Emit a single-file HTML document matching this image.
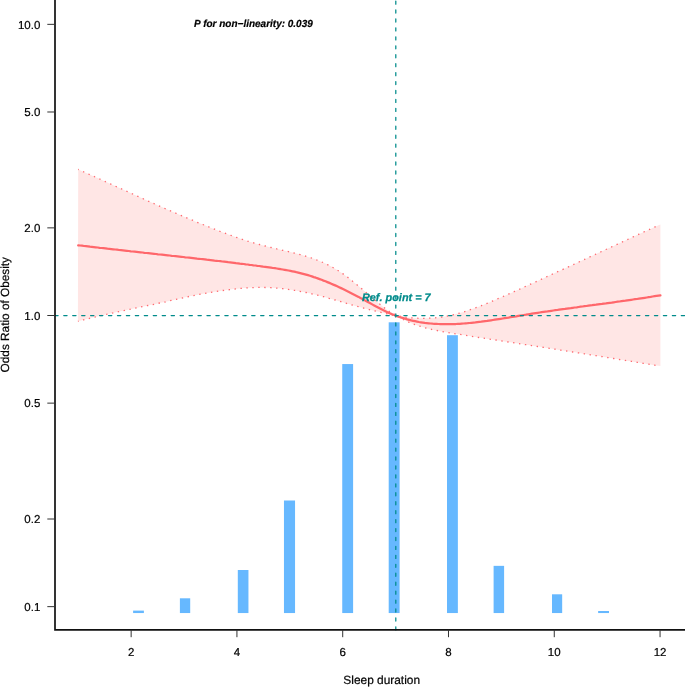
<!DOCTYPE html><html><head><meta charset="utf-8"><title>chart</title><style>html,body{margin:0;padding:0;background:#fff}svg{display:block;will-change:transform}text{font-family:"Liberation Sans",sans-serif;fill:#000;stroke:#000;stroke-width:0.2px;text-rendering:geometricPrecision}</style></head><body>
<svg width="685" height="687" viewBox="0 0 685 687">
<rect width="685" height="687" fill="#fff"/>
<rect x="133.10" y="610.60" width="10.80" height="2.45" fill="#66b8ff"/>
<rect x="179.90" y="598.30" width="10.30" height="14.75" fill="#66b8ff"/>
<rect x="237.80" y="570.00" width="10.65" height="43.05" fill="#66b8ff"/>
<rect x="283.96" y="500.50" width="11.09" height="112.55" fill="#66b8ff"/>
<rect x="342.24" y="364.05" width="10.86" height="249.00" fill="#66b8ff"/>
<rect x="388.70" y="322.30" width="10.90" height="290.75" fill="#66b8ff"/>
<rect x="447.00" y="335.20" width="10.87" height="277.85" fill="#66b8ff"/>
<rect x="493.60" y="565.85" width="10.50" height="47.20" fill="#66b8ff"/>
<rect x="552.00" y="594.30" width="10.17" height="18.75" fill="#66b8ff"/>
<rect x="598.14" y="611.00" width="10.86" height="2.05" fill="#66b8ff"/>
<path d="M78.2,169.4 L80.1,170.3 L82.1,171.2 L84.0,172.0 L86.0,172.9 L87.9,173.8 L89.9,174.6 L91.8,175.5 L93.8,176.4 L95.7,177.3 L97.7,178.1 L99.6,179.0 L101.6,179.9 L103.5,180.8 L105.5,181.7 L107.4,182.5 L109.4,183.4 L111.3,184.3 L113.2,185.2 L115.2,186.1 L117.1,187.0 L119.1,187.8 L121.0,188.7 L123.0,189.6 L124.9,190.5 L126.9,191.4 L128.8,192.3 L130.8,193.1 L132.7,194.0 L134.7,194.9 L136.6,195.8 L138.6,196.7 L140.5,197.6 L142.5,198.4 L144.4,199.3 L146.4,200.2 L148.3,201.1 L150.2,201.9 L152.2,202.8 L154.1,203.7 L156.1,204.5 L158.0,205.4 L160.0,206.3 L161.9,207.1 L163.9,208.0 L165.8,208.9 L167.8,209.7 L169.7,210.6 L171.7,211.4 L173.6,212.3 L175.6,213.1 L177.5,213.9 L179.5,214.8 L181.4,215.6 L183.3,216.4 L185.3,217.3 L187.2,218.1 L189.2,218.9 L191.1,219.7 L193.1,220.5 L195.0,221.4 L197.0,222.2 L198.9,223.0 L200.9,223.8 L202.8,224.5 L204.8,225.3 L206.7,226.1 L208.7,226.9 L210.6,227.7 L212.6,228.4 L214.5,229.2 L216.4,230.0 L218.4,230.7 L220.3,231.5 L222.3,232.2 L224.2,232.9 L226.2,233.7 L228.1,234.4 L230.1,235.1 L232.0,235.8 L234.0,236.5 L235.9,237.2 L237.9,237.8 L239.8,238.5 L241.8,239.2 L243.7,239.8 L245.7,240.4 L247.6,241.1 L249.5,241.7 L251.5,242.3 L253.4,242.8 L255.4,243.4 L257.3,244.0 L259.3,244.5 L261.2,245.0 L263.2,245.5 L265.1,246.0 L267.1,246.5 L269.0,247.0 L271.0,247.5 L272.9,248.0 L274.9,248.4 L276.8,248.9 L278.8,249.3 L280.7,249.8 L282.7,250.3 L284.6,250.7 L286.5,251.2 L288.5,251.6 L290.4,252.1 L292.4,252.6 L294.3,253.1 L296.3,253.6 L298.2,254.1 L300.2,254.6 L302.1,255.1 L304.1,255.7 L306.0,256.3 L308.0,256.9 L309.9,257.5 L311.9,258.2 L313.8,258.8 L315.8,259.6 L317.7,260.3 L319.6,261.1 L321.6,261.9 L323.5,262.7 L325.5,263.6 L327.4,264.6 L329.4,265.6 L331.3,266.6 L333.3,267.7 L335.2,268.8 L337.2,270.0 L339.1,271.3 L341.1,272.6 L343.0,273.9 L345.0,275.3 L346.9,276.7 L348.9,278.2 L350.8,279.7 L352.7,281.3 L354.7,282.9 L356.6,284.5 L358.6,286.1 L360.5,287.7 L362.5,289.4 L364.4,291.0 L366.4,292.7 L368.3,294.4 L370.3,296.0 L372.2,297.7 L374.2,299.4 L376.1,301.0 L378.1,302.7 L380.0,304.3 L382.0,305.9 L383.9,307.5 L385.9,309.0 L387.8,310.4 L389.7,311.7 L391.7,312.9 L393.6,313.9 L395.6,314.8 L397.5,315.5 L399.5,316.1 L401.4,316.5 L403.4,316.9 L405.3,317.1 L407.3,317.4 L409.2,317.6 L411.2,317.8 L413.1,317.9 L415.1,318.1 L417.0,318.2 L419.0,318.3 L420.9,318.3 L422.8,318.3 L424.8,318.3 L426.7,318.3 L428.7,318.2 L430.6,318.1 L432.6,318.0 L434.5,317.9 L436.5,317.7 L438.4,317.5 L440.4,317.2 L442.3,317.0 L444.3,316.7 L446.2,316.3 L448.2,315.9 L450.1,315.5 L452.1,315.1 L454.0,314.6 L455.9,314.1 L457.9,313.6 L459.8,313.1 L461.8,312.5 L463.7,311.9 L465.7,311.3 L467.6,310.6 L469.6,310.0 L471.5,309.3 L473.5,308.6 L475.4,307.9 L477.4,307.2 L479.3,306.4 L481.3,305.7 L483.2,304.9 L485.2,304.1 L487.1,303.3 L489.1,302.5 L491.0,301.7 L492.9,300.9 L494.9,300.1 L496.8,299.2 L498.8,298.4 L500.7,297.5 L502.7,296.7 L504.6,295.8 L506.6,295.0 L508.5,294.1 L510.5,293.3 L512.4,292.4 L514.4,291.5 L516.3,290.6 L518.3,289.7 L520.2,288.9 L522.2,288.0 L524.1,287.1 L526.0,286.2 L528.0,285.3 L529.9,284.4 L531.9,283.5 L533.8,282.7 L535.8,281.8 L537.7,280.9 L539.7,280.0 L541.6,279.1 L543.6,278.2 L545.5,277.3 L547.5,276.4 L549.4,275.5 L551.4,274.6 L553.3,273.7 L555.3,272.8 L557.2,271.9 L559.1,271.0 L561.1,270.2 L563.0,269.3 L565.0,268.4 L566.9,267.5 L568.9,266.6 L570.8,265.7 L572.8,264.8 L574.7,263.9 L576.7,263.0 L578.6,262.1 L580.6,261.2 L582.5,260.3 L584.5,259.4 L586.4,258.5 L588.4,257.6 L590.3,256.7 L592.2,255.8 L594.2,254.9 L596.1,254.0 L598.1,253.1 L600.0,252.2 L602.0,251.3 L603.9,250.4 L605.9,249.5 L607.8,248.6 L609.8,247.7 L611.7,246.8 L613.7,245.9 L615.6,245.0 L617.6,244.1 L619.5,243.2 L621.5,242.3 L623.4,241.4 L625.4,240.5 L627.3,239.6 L629.2,238.7 L631.2,237.8 L633.1,236.9 L635.1,236.0 L637.0,235.1 L639.0,234.2 L640.9,233.3 L642.9,232.4 L644.8,231.5 L646.8,230.7 L648.7,229.8 L650.7,228.9 L652.6,228.0 L654.6,227.1 L656.5,226.2 L658.5,225.3 L660.4,224.4 L660.4,366.1 L658.5,365.8 L656.5,365.5 L654.6,365.2 L652.6,364.9 L650.7,364.5 L648.7,364.2 L646.8,363.9 L644.8,363.6 L642.9,363.3 L640.9,362.9 L639.0,362.6 L637.0,362.3 L635.1,362.0 L633.1,361.7 L631.2,361.3 L629.2,361.0 L627.3,360.7 L625.3,360.4 L623.4,360.1 L621.4,359.8 L619.5,359.5 L617.5,359.1 L615.6,358.8 L613.6,358.5 L611.7,358.2 L609.7,357.9 L607.8,357.6 L605.9,357.3 L603.9,356.9 L602.0,356.6 L600.0,356.3 L598.1,356.0 L596.1,355.7 L594.2,355.4 L592.2,355.1 L590.3,354.8 L588.3,354.5 L586.4,354.2 L584.4,353.8 L582.5,353.5 L580.5,353.2 L578.6,352.9 L576.6,352.6 L574.7,352.3 L572.7,352.0 L570.8,351.7 L568.8,351.4 L566.9,351.1 L564.9,350.8 L563.0,350.5 L561.0,350.2 L559.1,349.9 L557.1,349.6 L555.2,349.2 L553.3,348.9 L551.3,348.6 L549.4,348.3 L547.4,348.0 L545.5,347.7 L543.5,347.4 L541.6,347.1 L539.6,346.8 L537.7,346.5 L535.7,346.2 L533.8,345.9 L531.8,345.6 L529.9,345.3 L527.9,345.0 L526.0,344.7 L524.0,344.4 L522.1,344.1 L520.1,343.8 L518.2,343.5 L516.2,343.2 L514.3,342.9 L512.3,342.6 L510.4,342.3 L508.4,342.0 L506.5,341.7 L504.5,341.4 L502.6,341.1 L500.7,340.8 L498.7,340.5 L496.8,340.2 L494.8,339.9 L492.9,339.6 L490.9,339.3 L489.0,339.0 L487.0,338.7 L485.1,338.4 L483.1,338.1 L481.2,337.8 L479.2,337.5 L477.3,337.2 L475.3,336.9 L473.4,336.6 L471.4,336.3 L469.5,336.0 L467.5,335.6 L465.6,335.3 L463.6,335.0 L461.7,334.7 L459.7,334.4 L457.8,334.1 L455.8,333.8 L453.9,333.5 L451.9,333.2 L450.0,332.9 L448.1,332.6 L446.1,332.2 L444.2,331.9 L442.2,331.6 L440.3,331.2 L438.3,330.8 L436.4,330.4 L434.4,330.0 L432.5,329.6 L430.5,329.1 L428.6,328.7 L426.6,328.2 L424.7,327.7 L422.7,327.1 L420.8,326.5 L418.8,325.9 L416.9,325.3 L414.9,324.6 L413.0,323.9 L411.0,323.1 L409.1,322.3 L407.1,321.4 L405.2,320.4 L403.2,319.4 L401.3,318.3 L399.3,317.3 L397.4,316.5 L395.5,315.9 L393.5,315.4 L391.6,314.9 L389.6,314.4 L387.7,314.0 L385.7,313.5 L383.8,313.0 L381.8,312.6 L379.9,312.1 L377.9,311.6 L376.0,311.2 L374.0,310.7 L372.1,310.2 L370.1,309.8 L368.2,309.3 L366.2,308.8 L364.3,308.3 L362.3,307.8 L360.4,307.3 L358.4,306.7 L356.5,306.2 L354.5,305.7 L352.6,305.1 L350.6,304.6 L348.7,304.0 L346.7,303.4 L344.8,302.9 L342.8,302.3 L340.9,301.7 L339.0,301.2 L337.0,300.6 L335.1,300.0 L333.1,299.5 L331.2,298.9 L329.2,298.4 L327.3,297.8 L325.3,297.3 L323.4,296.7 L321.4,296.2 L319.5,295.7 L317.5,295.2 L315.6,294.7 L313.6,294.3 L311.7,293.8 L309.7,293.3 L307.8,292.9 L305.8,292.5 L303.9,292.1 L301.9,291.7 L300.0,291.3 L298.0,291.0 L296.1,290.6 L294.1,290.3 L292.2,290.0 L290.2,289.7 L288.3,289.4 L286.4,289.1 L284.4,288.9 L282.5,288.6 L280.5,288.4 L278.6,288.2 L276.6,288.1 L274.7,287.9 L272.7,287.8 L270.8,287.7 L268.8,287.6 L266.9,287.5 L264.9,287.5 L263.0,287.4 L261.0,287.4 L259.1,287.4 L257.1,287.4 L255.2,287.5 L253.2,287.6 L251.3,287.6 L249.3,287.7 L247.4,287.9 L245.4,288.0 L243.5,288.1 L241.5,288.3 L239.6,288.5 L237.6,288.7 L235.7,288.9 L233.8,289.1 L231.8,289.3 L229.9,289.6 L227.9,289.8 L226.0,290.1 L224.0,290.3 L222.1,290.6 L220.1,290.9 L218.2,291.2 L216.2,291.5 L214.3,291.8 L212.3,292.1 L210.4,292.5 L208.4,292.8 L206.5,293.1 L204.5,293.5 L202.6,293.8 L200.6,294.2 L198.7,294.5 L196.7,294.9 L194.8,295.3 L192.8,295.7 L190.9,296.1 L188.9,296.5 L187.0,296.9 L185.0,297.3 L183.1,297.8 L181.2,298.2 L179.2,298.7 L177.3,299.1 L175.3,299.5 L173.4,300.0 L171.4,300.4 L169.5,300.9 L167.5,301.3 L165.6,301.8 L163.6,302.2 L161.7,302.6 L159.7,303.0 L157.8,303.4 L155.8,303.9 L153.9,304.3 L151.9,304.7 L150.0,305.1 L148.0,305.5 L146.1,305.9 L144.1,306.3 L142.2,306.7 L140.2,307.1 L138.3,307.5 L136.3,307.9 L134.4,308.3 L132.4,308.7 L130.5,309.2 L128.6,309.6 L126.6,310.0 L124.7,310.4 L122.7,310.8 L120.8,311.2 L118.8,311.6 L116.9,312.0 L114.9,312.4 L113.0,312.9 L111.0,313.3 L109.1,313.7 L107.1,314.2 L105.2,314.6 L103.2,315.0 L101.3,315.5 L99.3,315.9 L97.4,316.4 L95.4,316.9 L93.5,317.3 L91.5,317.8 L89.6,318.3 L87.6,318.8 L85.7,319.3 L83.7,319.8 L81.8,320.3 L79.8,320.8 L77.9,321.3Z" fill="#ffe6e5" fill-opacity="1"/>
<polyline points="78.2,169.4 80.1,170.3 82.1,171.2 84.0,172.0 86.0,172.9 87.9,173.8 89.9,174.6 91.8,175.5 93.8,176.4 95.7,177.3 97.7,178.1 99.6,179.0 101.6,179.9 103.5,180.8 105.5,181.7 107.4,182.5 109.4,183.4 111.3,184.3 113.2,185.2 115.2,186.1 117.1,187.0 119.1,187.8 121.0,188.7 123.0,189.6 124.9,190.5 126.9,191.4 128.8,192.3 130.8,193.1 132.7,194.0 134.7,194.9 136.6,195.8 138.6,196.7 140.5,197.6 142.5,198.4 144.4,199.3 146.4,200.2 148.3,201.1 150.2,201.9 152.2,202.8 154.1,203.7 156.1,204.5 158.0,205.4 160.0,206.3 161.9,207.1 163.9,208.0 165.8,208.9 167.8,209.7 169.7,210.6 171.7,211.4 173.6,212.3 175.6,213.1 177.5,213.9 179.5,214.8 181.4,215.6 183.3,216.4 185.3,217.3 187.2,218.1 189.2,218.9 191.1,219.7 193.1,220.5 195.0,221.4 197.0,222.2 198.9,223.0 200.9,223.8 202.8,224.5 204.8,225.3 206.7,226.1 208.7,226.9 210.6,227.7 212.6,228.4 214.5,229.2 216.4,230.0 218.4,230.7 220.3,231.5 222.3,232.2 224.2,232.9 226.2,233.7 228.1,234.4 230.1,235.1 232.0,235.8 234.0,236.5 235.9,237.2 237.9,237.8 239.8,238.5 241.8,239.2 243.7,239.8 245.7,240.4 247.6,241.1 249.5,241.7 251.5,242.3 253.4,242.8 255.4,243.4 257.3,244.0 259.3,244.5 261.2,245.0 263.2,245.5 265.1,246.0 267.1,246.5 269.0,247.0 271.0,247.5 272.9,248.0 274.9,248.4 276.8,248.9 278.8,249.3 280.7,249.8 282.7,250.3 284.6,250.7 286.5,251.2 288.5,251.6 290.4,252.1 292.4,252.6 294.3,253.1 296.3,253.6 298.2,254.1 300.2,254.6 302.1,255.1 304.1,255.7 306.0,256.3 308.0,256.9 309.9,257.5 311.9,258.2 313.8,258.8 315.8,259.6 317.7,260.3 319.6,261.1 321.6,261.9 323.5,262.7 325.5,263.6 327.4,264.6 329.4,265.6 331.3,266.6 333.3,267.7 335.2,268.8 337.2,270.0 339.1,271.3 341.1,272.6 343.0,273.9 345.0,275.3 346.9,276.7 348.9,278.2 350.8,279.7 352.7,281.3 354.7,282.9 356.6,284.5 358.6,286.1 360.5,287.7 362.5,289.4 364.4,291.0 366.4,292.7 368.3,294.4 370.3,296.0 372.2,297.7 374.2,299.4 376.1,301.0 378.1,302.7 380.0,304.3 382.0,305.9 383.9,307.5 385.9,309.0 387.8,310.4 389.7,311.7 391.7,312.9 393.6,313.9 395.6,314.8 397.5,315.5 399.5,316.1 401.4,316.5 403.4,316.9 405.3,317.1 407.3,317.4 409.2,317.6 411.2,317.8 413.1,317.9 415.1,318.1 417.0,318.2 419.0,318.3 420.9,318.3 422.8,318.3 424.8,318.3 426.7,318.3 428.7,318.2 430.6,318.1 432.6,318.0 434.5,317.9 436.5,317.7 438.4,317.5 440.4,317.2 442.3,317.0 444.3,316.7 446.2,316.3 448.2,315.9 450.1,315.5 452.1,315.1 454.0,314.6 455.9,314.1 457.9,313.6 459.8,313.1 461.8,312.5 463.7,311.9 465.7,311.3 467.6,310.6 469.6,310.0 471.5,309.3 473.5,308.6 475.4,307.9 477.4,307.2 479.3,306.4 481.3,305.7 483.2,304.9 485.2,304.1 487.1,303.3 489.1,302.5 491.0,301.7 492.9,300.9 494.9,300.1 496.8,299.2 498.8,298.4 500.7,297.5 502.7,296.7 504.6,295.8 506.6,295.0 508.5,294.1 510.5,293.3 512.4,292.4 514.4,291.5 516.3,290.6 518.3,289.7 520.2,288.9 522.2,288.0 524.1,287.1 526.0,286.2 528.0,285.3 529.9,284.4 531.9,283.5 533.8,282.7 535.8,281.8 537.7,280.9 539.7,280.0 541.6,279.1 543.6,278.2 545.5,277.3 547.5,276.4 549.4,275.5 551.4,274.6 553.3,273.7 555.3,272.8 557.2,271.9 559.1,271.0 561.1,270.2 563.0,269.3 565.0,268.4 566.9,267.5 568.9,266.6 570.8,265.7 572.8,264.8 574.7,263.9 576.7,263.0 578.6,262.1 580.6,261.2 582.5,260.3 584.5,259.4 586.4,258.5 588.4,257.6 590.3,256.7 592.2,255.8 594.2,254.9 596.1,254.0 598.1,253.1 600.0,252.2 602.0,251.3 603.9,250.4 605.9,249.5 607.8,248.6 609.8,247.7 611.7,246.8 613.7,245.9 615.6,245.0 617.6,244.1 619.5,243.2 621.5,242.3 623.4,241.4 625.4,240.5 627.3,239.6 629.2,238.7 631.2,237.8 633.1,236.9 635.1,236.0 637.0,235.1 639.0,234.2 640.9,233.3 642.9,232.4 644.8,231.5 646.8,230.7 648.7,229.8 650.7,228.9 652.6,228.0 654.6,227.1 656.5,226.2 658.5,225.3" fill="none" stroke="#ff6a70" stroke-width="1.3" stroke-dasharray="1.4 4.553" stroke-dashoffset="0.7" stroke-linecap="butt"/>
<polyline points="77.9,321.3 79.8,320.8 81.8,320.3 83.7,319.8 85.7,319.3 87.6,318.8 89.6,318.3 91.5,317.8 93.5,317.3 95.4,316.9 97.4,316.4 99.3,315.9 101.3,315.5 103.2,315.0 105.2,314.6 107.1,314.2 109.1,313.7 111.0,313.3 113.0,312.9 114.9,312.4 116.9,312.0 118.8,311.6 120.8,311.2 122.7,310.8 124.7,310.4 126.6,310.0 128.6,309.6 130.5,309.2 132.4,308.7 134.4,308.3 136.3,307.9 138.3,307.5 140.2,307.1 142.2,306.7 144.1,306.3 146.1,305.9 148.0,305.5 150.0,305.1 151.9,304.7 153.9,304.3 155.8,303.9 157.8,303.4 159.7,303.0 161.7,302.6 163.6,302.2 165.6,301.8 167.5,301.3 169.5,300.9 171.4,300.4 173.4,300.0 175.3,299.5 177.3,299.1 179.2,298.7 181.2,298.2 183.1,297.8 185.0,297.3 187.0,296.9 188.9,296.5 190.9,296.1 192.8,295.7 194.8,295.3 196.7,294.9 198.7,294.5 200.6,294.2 202.6,293.8 204.5,293.5 206.5,293.1 208.4,292.8 210.4,292.5 212.3,292.1 214.3,291.8 216.2,291.5 218.2,291.2 220.1,290.9 222.1,290.6 224.0,290.3 226.0,290.1 227.9,289.8 229.9,289.6 231.8,289.3 233.8,289.1 235.7,288.9 237.6,288.7 239.6,288.5 241.5,288.3 243.5,288.1 245.4,288.0 247.4,287.9 249.3,287.7 251.3,287.6 253.2,287.6 255.2,287.5 257.1,287.4 259.1,287.4 261.0,287.4 263.0,287.4 264.9,287.5 266.9,287.5 268.8,287.6 270.8,287.7 272.7,287.8 274.7,287.9 276.6,288.1 278.6,288.2 280.5,288.4 282.5,288.6 284.4,288.9 286.4,289.1 288.3,289.4 290.2,289.7 292.2,290.0 294.1,290.3 296.1,290.6 298.0,291.0 300.0,291.3 301.9,291.7 303.9,292.1 305.8,292.5 307.8,292.9 309.7,293.3 311.7,293.8 313.6,294.3 315.6,294.7 317.5,295.2 319.5,295.7 321.4,296.2 323.4,296.7 325.3,297.3 327.3,297.8 329.2,298.4 331.2,298.9 333.1,299.5 335.1,300.0 337.0,300.6 339.0,301.2 340.9,301.7 342.8,302.3 344.8,302.9 346.7,303.4 348.7,304.0 350.6,304.6 352.6,305.1 354.5,305.7 356.5,306.2 358.4,306.7 360.4,307.3 362.3,307.8 364.3,308.3 366.2,308.8 368.2,309.3 370.1,309.8 372.1,310.2 374.0,310.7 376.0,311.2 377.9,311.6 379.9,312.1 381.8,312.6 383.8,313.0 385.7,313.5 387.7,314.0 389.6,314.4 391.6,314.9 393.5,315.4 395.5,315.9 397.4,316.5 399.3,317.3 401.3,318.3 403.2,319.4 405.2,320.4 407.1,321.4 409.1,322.3 411.0,323.1 413.0,323.9 414.9,324.6 416.9,325.3 418.8,325.9 420.8,326.5 422.7,327.1 424.7,327.7 426.6,328.2 428.6,328.7 430.5,329.1 432.5,329.6 434.4,330.0 436.4,330.4 438.3,330.8 440.3,331.2 442.2,331.6 444.2,331.9 446.1,332.2 448.1,332.6 450.0,332.9 451.9,333.2 453.9,333.5 455.8,333.8 457.8,334.1 459.7,334.4 461.7,334.7 463.6,335.0 465.6,335.3 467.5,335.6 469.5,336.0 471.4,336.3 473.4,336.6 475.3,336.9 477.3,337.2 479.2,337.5 481.2,337.8 483.1,338.1 485.1,338.4 487.0,338.7 489.0,339.0 490.9,339.3 492.9,339.6 494.8,339.9 496.8,340.2 498.7,340.5 500.7,340.8 502.6,341.1 504.5,341.4 506.5,341.7 508.4,342.0 510.4,342.3 512.3,342.6 514.3,342.9 516.2,343.2 518.2,343.5 520.1,343.8 522.1,344.1 524.0,344.4 526.0,344.7 527.9,345.0 529.9,345.3 531.8,345.6 533.8,345.9 535.7,346.2 537.7,346.5 539.6,346.8 541.6,347.1 543.5,347.4 545.5,347.7 547.4,348.0 549.4,348.3 551.3,348.6 553.3,348.9 555.2,349.2 557.1,349.6 559.1,349.9 561.0,350.2 563.0,350.5 564.9,350.8 566.9,351.1 568.8,351.4 570.8,351.7 572.7,352.0 574.7,352.3 576.6,352.6 578.6,352.9 580.5,353.2 582.5,353.5 584.4,353.8 586.4,354.2 588.3,354.5 590.3,354.8 592.2,355.1 594.2,355.4 596.1,355.7 598.1,356.0 600.0,356.3 602.0,356.6 603.9,356.9 605.9,357.3 607.8,357.6 609.7,357.9 611.7,358.2 613.6,358.5 615.6,358.8 617.5,359.1 619.5,359.5 621.4,359.8 623.4,360.1 625.3,360.4 627.3,360.7 629.2,361.0 631.2,361.3 633.1,361.7 635.1,362.0 637.0,362.3 639.0,362.6 640.9,362.9 642.9,363.3 644.8,363.6 646.8,363.9 648.7,364.2 650.7,364.5 652.6,364.9 654.6,365.2 656.5,365.5 658.5,365.8" fill="none" stroke="#ff6a70" stroke-width="1.3" stroke-dasharray="1.4 4.553" stroke-dashoffset="0.7" stroke-linecap="butt"/>
<polyline points="78.2,245.3 80.1,245.5 82.1,245.7 84.0,246.0 86.0,246.2 87.9,246.4 89.9,246.7 91.8,246.9 93.8,247.1 95.7,247.3 97.7,247.5 99.6,247.8 101.6,248.0 103.5,248.2 105.5,248.4 107.4,248.7 109.4,248.9 111.3,249.1 113.2,249.3 115.2,249.5 117.1,249.7 119.1,250.0 121.0,250.2 123.0,250.4 124.9,250.6 126.9,250.8 128.8,251.0 130.8,251.3 132.7,251.5 134.7,251.7 136.6,251.9 138.6,252.1 140.5,252.3 142.5,252.5 144.4,252.8 146.4,253.0 148.3,253.2 150.2,253.4 152.2,253.6 154.1,253.8 156.1,254.0 158.0,254.3 160.0,254.5 161.9,254.7 163.9,254.9 165.8,255.1 167.8,255.3 169.7,255.5 171.7,255.8 173.6,256.0 175.6,256.2 177.5,256.4 179.5,256.6 181.4,256.8 183.3,257.0 185.3,257.3 187.2,257.5 189.2,257.7 191.1,257.9 193.1,258.1 195.0,258.3 197.0,258.6 198.9,258.8 200.9,259.0 202.8,259.2 204.8,259.4 206.7,259.7 208.7,259.9 210.6,260.1 212.6,260.3 214.5,260.6 216.4,260.8 218.4,261.0 220.3,261.2 222.3,261.5 224.2,261.7 226.2,261.9 228.1,262.2 230.1,262.4 232.0,262.6 234.0,262.8 235.9,263.1 237.9,263.3 239.8,263.6 241.8,263.8 243.7,264.0 245.7,264.3 247.6,264.5 249.5,264.8 251.5,265.0 253.4,265.3 255.4,265.5 257.3,265.8 259.3,266.0 261.2,266.3 263.2,266.6 265.1,266.8 267.1,267.1 269.0,267.4 271.0,267.7 272.9,268.0 274.9,268.2 276.8,268.5 278.8,268.8 280.7,269.2 282.7,269.5 284.6,269.8 286.5,270.2 288.5,270.5 290.4,270.9 292.4,271.3 294.3,271.7 296.3,272.2 298.2,272.6 300.2,273.1 302.1,273.6 304.1,274.1 306.0,274.6 308.0,275.2 309.9,275.8 311.9,276.4 313.8,277.1 315.8,277.7 317.7,278.4 319.6,279.1 321.6,279.8 323.5,280.6 325.5,281.3 327.4,282.1 329.4,282.9 331.3,283.7 333.3,284.6 335.2,285.4 337.2,286.3 339.1,287.2 341.1,288.1 343.0,289.0 345.0,290.0 346.9,290.9 348.9,291.9 350.8,292.9 352.7,293.9 354.7,294.9 356.6,295.9 358.6,296.9 360.5,298.0 362.5,299.0 364.4,300.1 366.4,301.2 368.3,302.2 370.3,303.3 372.2,304.4 374.2,305.5 376.1,306.5 378.1,307.6 380.0,308.6 382.0,309.6 383.9,310.5 385.9,311.5 387.8,312.4 389.7,313.2 391.7,314.1 393.6,314.8 395.6,315.6 397.5,316.3 399.5,317.0 401.4,317.6 403.4,318.2 405.3,318.8 407.3,319.4 409.2,319.9 411.2,320.4 413.1,320.8 415.1,321.2 417.0,321.6 419.0,322.0 420.9,322.3 422.8,322.6 424.8,322.9 426.7,323.1 428.7,323.3 430.6,323.5 432.6,323.7 434.5,323.8 436.5,323.9 438.4,324.0 440.4,324.1 442.3,324.2 444.3,324.2 446.2,324.2 448.2,324.2 450.1,324.2 452.1,324.1 454.0,324.0 455.9,324.0 457.9,323.9 459.8,323.8 461.8,323.6 463.7,323.5 465.7,323.3 467.6,323.2 469.6,323.0 471.5,322.8 473.5,322.6 475.4,322.4 477.4,322.1 479.3,321.9 481.3,321.7 483.2,321.4 485.2,321.1 487.1,320.9 489.1,320.6 491.0,320.3 492.9,320.0 494.9,319.7 496.8,319.4 498.8,319.1 500.7,318.8 502.7,318.5 504.6,318.2 506.6,317.9 508.5,317.6 510.5,317.2 512.4,316.9 514.4,316.6 516.3,316.3 518.3,315.9 520.2,315.6 522.2,315.3 524.1,315.0 526.0,314.7 528.0,314.3 529.9,314.0 531.9,313.7 533.8,313.4 535.8,313.1 537.7,312.8 539.7,312.5 541.6,312.2 543.6,311.9 545.5,311.6 547.5,311.4 549.4,311.1 551.4,310.8 553.3,310.5 555.3,310.2 557.2,310.0 559.1,309.7 561.1,309.4 563.0,309.1 565.0,308.9 566.9,308.6 568.9,308.3 570.8,308.1 572.8,307.8 574.7,307.5 576.7,307.3 578.6,307.0 580.6,306.7 582.5,306.5 584.5,306.2 586.4,306.0 588.4,305.7 590.3,305.4 592.2,305.2 594.2,304.9 596.1,304.7 598.1,304.4 600.0,304.1 602.0,303.9 603.9,303.6 605.9,303.4 607.8,303.1 609.8,302.8 611.7,302.6 613.7,302.3 615.6,302.0 617.6,301.7 619.5,301.5 621.5,301.2 623.4,300.9 625.4,300.7 627.3,300.4 629.2,300.1 631.2,299.8 633.1,299.5 635.1,299.2 637.0,299.0 639.0,298.7 640.9,298.4 642.9,298.1 644.8,297.8 646.8,297.5 648.7,297.2 650.7,296.9 652.6,296.5 654.6,296.2 656.5,295.9 658.5,295.6 660.4,295.3" fill="none" stroke="#ff676b" stroke-width="2.25" stroke-linecap="round" stroke-linejoin="round"/>
<line x1="54.8" y1="315.50" x2="690" y2="315.50" stroke="#008b8b" stroke-width="1.25" stroke-dasharray="3.30 5.65" stroke-linecap="round"/>
<line x1="395.80" y1="629.95" x2="395.80" y2="-10" stroke="#008b8b" stroke-width="1.25" stroke-dasharray="3.10 5.84" stroke-linecap="round"/>
<path d="M55.00,0 V629.85 H685" fill="none" stroke="#111" stroke-width="1.7" stroke-linecap="square"/>
<line x1="47.3" y1="24.35" x2="55.00" y2="24.35" stroke="#333" stroke-width="1"/>
<text x="40.3" y="28.65" font-size="11.5" text-anchor="end">10.0</text>
<line x1="47.3" y1="111.99" x2="55.00" y2="111.99" stroke="#333" stroke-width="1"/>
<text x="40.3" y="116.29" font-size="11.5" text-anchor="end">5.0</text>
<line x1="47.3" y1="227.86" x2="55.00" y2="227.86" stroke="#333" stroke-width="1"/>
<text x="40.3" y="232.16" font-size="11.5" text-anchor="end">2.0</text>
<line x1="47.3" y1="315.50" x2="55.00" y2="315.50" stroke="#333" stroke-width="1"/>
<text x="40.3" y="319.80" font-size="11.5" text-anchor="end">1.0</text>
<line x1="47.3" y1="403.14" x2="55.00" y2="403.14" stroke="#333" stroke-width="1"/>
<text x="40.3" y="407.44" font-size="11.5" text-anchor="end">0.5</text>
<line x1="47.3" y1="519.01" x2="55.00" y2="519.01" stroke="#333" stroke-width="1"/>
<text x="40.3" y="523.31" font-size="11.5" text-anchor="end">0.2</text>
<line x1="47.3" y1="606.65" x2="55.00" y2="606.65" stroke="#333" stroke-width="1"/>
<text x="40.3" y="610.95" font-size="11.5" text-anchor="end">0.1</text>
<line x1="131.15" y1="629.85" x2="131.15" y2="637.2" stroke="#333" stroke-width="1"/>
<text x="131.15" y="655.7" font-size="11.5" text-anchor="middle">2</text>
<line x1="236.93" y1="629.85" x2="236.93" y2="637.2" stroke="#333" stroke-width="1"/>
<text x="236.93" y="655.7" font-size="11.5" text-anchor="middle">4</text>
<line x1="342.71" y1="629.85" x2="342.71" y2="637.2" stroke="#333" stroke-width="1"/>
<text x="342.71" y="655.7" font-size="11.5" text-anchor="middle">6</text>
<line x1="448.49" y1="629.85" x2="448.49" y2="637.2" stroke="#333" stroke-width="1"/>
<text x="448.49" y="655.7" font-size="11.5" text-anchor="middle">8</text>
<line x1="554.27" y1="629.85" x2="554.27" y2="637.2" stroke="#333" stroke-width="1"/>
<text x="554.27" y="655.7" font-size="11.5" text-anchor="middle">10</text>
<line x1="660.05" y1="629.85" x2="660.05" y2="637.2" stroke="#333" stroke-width="1"/>
<text x="660.05" y="655.7" font-size="11.5" text-anchor="middle">12</text>
<text x="381.7" y="683.8" font-size="11.9" text-anchor="middle">Sleep duration</text>
<text transform="translate(9.2,314.7) rotate(-90)" font-size="11.8" text-anchor="middle">Odds Ratio of Obesity</text>
<text x="194.1" y="26.5" font-size="10.3" font-weight="bold" font-style="italic" textLength="118.7" lengthAdjust="spacingAndGlyphs">P for non−linearity: 0.039</text>
<text x="396.3" y="300.5" font-size="10.9" font-weight="bold" font-style="italic" text-anchor="middle" style="fill:#008b8b;stroke:#008b8b;stroke-width:0.25px">Ref. point = 7</text>
</svg></body></html>
